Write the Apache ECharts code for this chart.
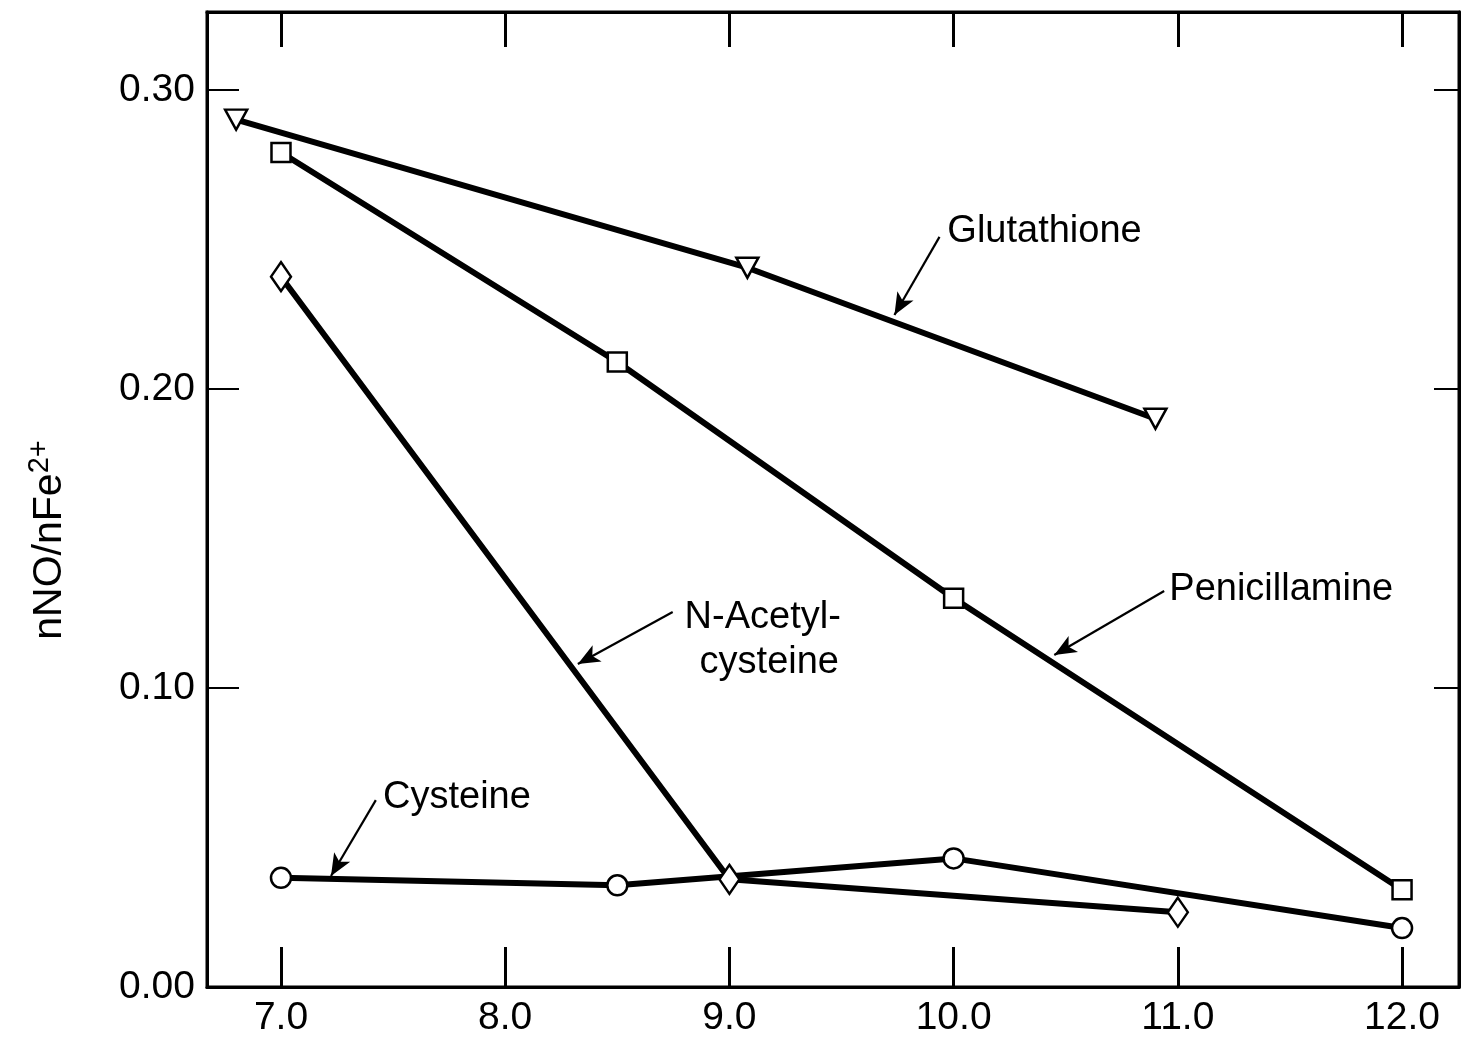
<!DOCTYPE html>
<html>
<head>
<meta charset="utf-8">
<script src="https://cdn.jsdelivr.net/npm/echarts@6/dist/echarts.min.js"></script>
<style>
  html, body { margin: 0; padding: 0; background: #fff; }
  #chart { width: 1461px; height: 1038px; }
</style>
</head>
<body>
<div id="chart"></div>
<script>
  // pH values and nNO/nFe2+ ratios
  var phGlu = [6.8, 9.08, 10.9]
  var glu = [0.290, 0.2405, 0.190]
  var phPen = [7.0, 8.5, 10.0, 12.0]
  var pen = [0.279, 0.209, 0.130, 0.0325]
  var phNac = [7.0, 9.0, 11.0]
  var nac = [0.2375, 0.036, 0.025]
  var phCys = [7.0, 8.5, 10.0, 12.0]
  var cys = [0.0365, 0.034, 0.043, 0.0197]

  var xTicks = [7, 8, 9, 10, 11, 12]
  var yTicks = [0, 0.1, 0.2, 0.3]

  // annotation text (data coords) and arrows [x1, y1, x2, y2]
  var gluLabel = ['Glutathione', 9.972, 0.2525]
  var gluArrow = [9.937, 0.2508, 9.736, 0.2247]
  var penLabel = ['Penicillamine', 10.962, 0.1328]
  var penArrow = [10.939, 0.1324, 10.449, 0.1110]
  var nacLabel1 = ['N-Acetyl-', 8.80, 0.1234]
  var nacLabel2 = ['cysteine', 8.867, 0.1084]
  var nacArrow = [8.747, 0.1254, 8.324, 0.1080]
  var cysLabel = ['Cysteine', 7.455, 0.0635]
  var cysArrow = [7.423, 0.0625, 7.223, 0.0371]

  var font = 'Liberation Sans, Arial, Helvetica, sans-serif'

  function zip(xs, ys) {
    return xs.map(function (x, i) { return [x, ys[i]] })
  }

  function arrow(a) {
    return {
      silent: true,
      symbol: ['none', 'arrow'],
      symbolSize: [14, 22],
      label: {show: false},
      lineStyle: {color: '#000', width: 2.2, type: 'solid'},
      data: [[{coord: [a[0], a[1]]}, {coord: [a[2], a[3]]}]]
    }
  }

  function labels(list) {
    return {
      silent: true,
      symbol: 'circle',
      symbolSize: 0,
      label: {
        show: true,
        position: 'inside',
        align: 'left',
        verticalAlign: 'middle',
        color: '#000',
        fontSize: 38,
        fontFamily: font,
        formatter: function (p) { return p.name }
      },
      data: list.map(function (l) { return {name: l[0], coord: [l[1], l[2]]} })
    }
  }

  function line(name, data, symbol, size, extra) {
    return Object.assign({
      name: name,
      type: 'line',
      data: data,
      symbol: symbol,
      symbolSize: size,
      showAllSymbol: true,
      lineStyle: {color: '#000', width: 6},
      itemStyle: {color: '#fff', borderColor: '#000', borderWidth: 2.5},
      z: 3
    }, extra || {})
  }

  var chart = echarts.init(document.getElementById('chart'))
  chart.setOption({
    animation: false,
    backgroundColor: '#fff',
    grid: {
      left: 207, right: 2, top: 12, bottom: 51,
      show: true, borderColor: '#000', borderWidth: 3
    },
    graphic: [{
      type: 'text',
      x: 50, y: 540,
      rotation: Math.PI / 2,
      style: {
        text: '{b|nNO/nFe}{s|2+}',
        align: 'center',
        verticalAlign: 'middle',
        fill: '#000',
        rich: {
          b: {fontSize: 41, fontFamily: font, fill: '#000'},
          s: {fontSize: 29, fontFamily: font, fill: '#000', verticalAlign: 'top', padding: [0, 0, 20, 0]}
        }
      }
    }],
    xAxis: [{
      type: 'value',
      min: 6.67, max: 12.254,
      axisLine: {show: true, onZero: false, lineStyle: {color: '#000', width: 3}},
      splitLine: {show: false},
      axisTick: {show: true, inside: true, length: 40, customValues: xTicks, lineStyle: {color: '#000', width: 3}},
      axisLabel: {
        customValues: xTicks, margin: 12, color: '#000', fontSize: 39, fontFamily: font,
        formatter: function (v) { return v.toFixed(1) }
      }
    }, {
      type: 'value', position: 'top',
      min: 6.67, max: 12.254,
      axisLine: {show: true, onZero: false, lineStyle: {color: '#000', width: 3}},
      splitLine: {show: false},
      axisTick: {show: true, inside: true, length: 35, customValues: xTicks, lineStyle: {color: '#000', width: 3}},
      axisLabel: {show: false}
    }],
    yAxis: [{
      type: 'value',
      min: 0, max: 0.326,
      axisLine: {show: true, onZero: false, lineStyle: {color: '#000', width: 3}},
      splitLine: {show: false},
      axisTick: {show: true, inside: true, length: 32, customValues: yTicks, lineStyle: {color: '#000', width: 2}},
      axisLabel: {
        customValues: yTicks, margin: 12, color: '#000', fontSize: 39, fontFamily: font,
        formatter: function (v) { return v.toFixed(2) }
      }
    }, {
      type: 'value', position: 'right',
      min: 0, max: 0.326,
      axisLine: {show: true, onZero: false, lineStyle: {color: '#000', width: 3}},
      splitLine: {show: false},
      axisTick: {show: true, inside: true, length: 25, customValues: yTicks, lineStyle: {color: '#000', width: 2}},
      axisLabel: {show: false}
    }],
    series: [
      line('Glutathione', zip(phGlu, glu), 'triangle', [22, 20], {
        symbolRotate: 180,
        markLine: arrow(gluArrow),
        markPoint: labels([gluLabel])
      }),
      line('Penicillamine', zip(phPen, pen), 'rect', 19, {
        markLine: arrow(penArrow),
        markPoint: labels([penLabel])
      }),
      line('Cysteine', zip(phCys, cys), 'circle', 20, {
        markLine: arrow(cysArrow),
        markPoint: labels([cysLabel])
      }),
      line('N-Acetylcysteine', zip(phNac, nac), 'diamond', [20, 29], {
        z: 4,
        markLine: arrow(nacArrow),
        markPoint: labels([nacLabel1, nacLabel2])
      })
    ]
  })
</script>
</body>
</html>
